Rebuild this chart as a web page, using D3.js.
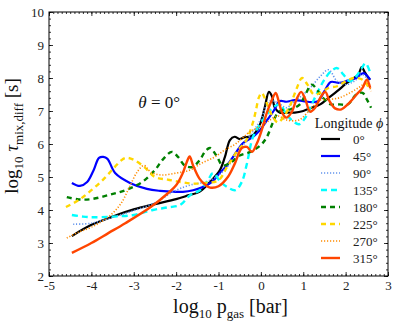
<!DOCTYPE html>
<html>
<head>
<meta charset="utf-8">
<script src="https://cdn.jsdelivr.net/npm/d3@7"></script>
<style>
  body { margin: 0; background: #fff; }
  text { font-family: "Liberation Serif", "DejaVu Serif", serif; }
</style>
</head>
<body>
<div id="chart"></div>
<script>
const margin = { top: 12, right: 10, bottom: 48, left: 49 };
const width = 398 - margin.left - margin.right;
const height = 324 - margin.top - margin.bottom;

// log10 p_gas [bar] and log10 tau_mix,diff [s], read per longitude
const phi0X = [-4.46, -4.0, -3.5, -3.0, -2.5, -2.0, -1.7, -1.45, -1.2, -0.97, -0.85, -0.73, -0.62, -0.5, -0.4, -0.2, -0.02, 0.09, 0.19, 0.26, 0.33, 0.45, 0.6, 0.8, 1.0, 1.2, 1.4, 1.6, 1.8, 2.03, 2.2, 2.3, 2.38, 2.45, 2.57];
const phi0Y = [3.21, 3.55, 3.8, 4.02, 4.18, 4.33, 4.45, 4.55, 4.85, 5.2, 5.6, 6.12, 6.22, 6.15, 6.2, 6.25, 6.6, 7.1, 7.58, 7.45, 7.1, 6.95, 6.95, 6.95, 7.0, 7.1, 7.2, 7.4, 7.6, 7.85, 8.0, 8.1, 8.33, 8.18, 7.94];

const phi45X = [-4.46, -4.27, -4.1, -3.95, -3.82, -3.72, -3.62, -3.44, -3.09, -2.69, -2.38, -2.0, -1.84, -1.6, -1.37, -1.15, -0.97, -0.8, -0.66, -0.42, -0.2, -0.02, 0.15, 0.3, 0.45, 0.6, 0.8, 1.0, 1.2, 1.35, 1.5, 1.65, 1.85, 2.05, 2.25, 2.42, 2.58];
const phi45Y = [4.82, 4.73, 4.85, 5.2, 5.58, 5.61, 5.55, 5.12, 4.82, 4.64, 4.58, 4.55, 4.55, 4.6, 4.7, 4.85, 5.12, 5.35, 5.6, 6.03, 6.2, 6.42, 6.73, 7.0, 7.3, 7.28, 7.33, 7.3, 7.27, 7.3, 7.6, 7.88, 7.85, 7.92, 8.0, 8.15, 7.95];

const phi90X = [-4.43, -4.0, -3.5, -3.0, -2.5, -2.0, -1.6, -1.3, -1.0, -0.8, -0.6, -0.4, -0.2, 0.0, 0.2, 0.4, 0.6, 0.8, 1.0, 1.2, 1.4, 1.6, 1.8, 2.0, 2.2, 2.4, 2.55];
const phi90Y = [3.57, 3.6, 3.78, 3.98, 4.22, 4.6, 4.78, 4.85, 5.05, 5.3, 5.6, 6.0, 6.35, 6.75, 7.3, 7.25, 7.1, 7.3, 7.5, 7.75, 8.05, 8.25, 7.9, 7.8, 7.9, 8.1, 7.9];

const phi135X = [-4.46, -4.2, -3.96, -3.5, -3.0, -2.55, -2.2, -1.91, -1.67, -1.44, -1.25, -1.13, -0.95, -0.8, -0.6, -0.45, -0.33, -0.19, -0.02, 0.15, 0.28, 0.45, 0.6, 0.75, 0.9, 1.05, 1.2, 1.35, 1.5, 1.65, 1.8, 1.95, 2.1, 2.25, 2.38, 2.47, 2.57];
const phi135Y = [3.85, 3.8, 3.78, 3.8, 3.85, 4.0, 4.08, 4.15, 4.45, 4.6, 4.9, 5.12, 4.85, 4.7, 4.6, 4.85, 5.4, 6.2, 6.6, 6.9, 7.1, 7.2, 6.9, 6.7, 6.6, 6.8, 7.2, 7.6, 7.95, 8.2, 8.3, 8.1, 7.9, 8.05, 8.3, 8.45, 8.2];

const phi180X = [-4.58, -4.3, -4.0, -3.6, -3.2, -2.8, -2.5, -2.3, -2.1, -1.95, -1.8, -1.62, -1.45, -1.3, -1.2, -1.05, -0.9, -0.7, -0.5, -0.25, 0.0, 0.14, 0.28, 0.4, 0.52, 0.7, 0.92, 1.05, 1.2, 1.35, 1.5, 1.65, 1.85, 2.05, 2.25, 2.4, 2.5, 2.6];
const phi180Y = [4.39, 4.32, 4.33, 4.45, 4.6, 4.85, 5.21, 5.55, 5.76, 5.6, 5.35, 5.3, 5.5, 5.8, 5.88, 5.65, 5.35, 5.45, 5.65, 5.76, 5.97, 6.21, 6.64, 6.94, 7.03, 7.05, 7.2, 7.5, 7.8, 7.6, 7.35, 7.2, 7.2, 7.2, 7.5, 7.55, 7.35, 7.1];

const phi225X = [-4.6, -4.3, -4.0, -3.7, -3.45, -3.3, -3.18, -3.0, -2.75, -2.5, -2.2, -1.9, -1.6, -1.3, -1.0, -0.8, -0.55, -0.35, -0.2, -0.12, -0.05, 0.02, 0.12, 0.25, 0.4, 0.55, 0.7, 0.85, 0.97, 1.1, 1.25, 1.4, 1.6, 1.8, 2.0, 2.2, 2.4, 2.55];
const phi225Y = [4.09, 4.3, 4.6, 4.95, 5.3, 5.5, 5.58, 5.52, 5.3, 5.0, 4.92, 4.85, 4.8, 4.82, 4.9, 5.3, 5.8, 6.1, 6.6, 7.0, 7.4, 7.55, 7.3, 6.9, 6.65, 6.85, 7.2, 7.7, 8.0, 7.8, 7.5, 7.55, 7.7, 7.75, 7.9, 8.0, 7.95, 7.7];

const phi270X = [-4.58, -4.3, -4.0, -3.6, -3.3, -3.1, -2.92, -2.76, -2.6, -2.35, -2.0, -1.67, -1.4, -1.1, -0.85, -0.6, -0.3, -0.05, 0.15, 0.4, 0.6, 0.9, 1.2, 1.4, 1.6, 1.85, 2.1, 2.3, 2.5, 2.6];
const phi270Y = [3.15, 3.33, 3.48, 3.79, 4.2, 4.7, 5.15, 5.35, 5.15, 5.06, 5.12, 5.21, 5.42, 5.6, 5.82, 6.0, 6.33, 6.52, 6.67, 6.85, 6.73, 6.73, 7.1, 7.33, 7.35, 7.4, 7.55, 7.7, 7.85, 7.6];

const phi315X = [-4.46, -4.0, -3.6, -3.2, -2.6, -2.2, -2.0, -1.85, -1.75, -1.68, -1.6, -1.45, -1.3, -1.2, -1.0, -0.78, -0.61, -0.45, -0.33, -0.21, -0.09, 0.02, 0.14, 0.26, 0.35, 0.42, 0.5, 0.6, 0.72, 0.84, 0.95, 1.05, 1.16, 1.28, 1.4, 1.52, 1.62, 1.75, 1.9, 2.05, 2.26, 2.4, 2.5, 2.58];
const phi315Y = [2.70, 3.0, 3.3, 3.6, 4.09, 4.5, 4.75, 5.1, 5.45, 5.62, 5.35, 4.95, 4.75, 4.68, 4.72, 5.0, 5.42, 5.88, 5.91, 5.76, 6.03, 6.42, 6.94, 7.33, 7.55, 7.3, 6.95, 6.8, 6.95, 7.35, 7.58, 7.35, 6.98, 7.1, 7.4, 7.58, 7.3, 7.08, 7.05, 7.2, 7.5, 7.7, 7.95, 7.7];

const legendLabels = ["0°", "45°", "90°", "135°", "180°", "225°", "270°", "315°"];
const xTicks = [-5, -4, -3, -2, -1, 0, 1, 2, 3];
const yTicks = [2, 3, 4, 5, 6, 7, 8, 9, 10];

const series = [
  { label: legendLabels[0], xs: phi0X, ys: phi0Y, color: "#000000", width: 2.2, dash: null },
  { label: legendLabels[1], xs: phi45X, ys: phi45Y, color: "#0000ff", width: 2.2, dash: null },
  { label: legendLabels[2], xs: phi90X, ys: phi90Y, color: "#6495ed", width: 1.6, dash: "1.2,1.8" },
  { label: legendLabels[3], xs: phi135X, ys: phi135Y, color: "#00ffff", width: 2.4, dash: "6,4" },
  { label: legendLabels[4], xs: phi180X, ys: phi180Y, color: "#008000", width: 2.4, dash: "5,4" },
  { label: legendLabels[5], xs: phi225X, ys: phi225Y, color: "#ffd700", width: 2.4, dash: "5,4" },
  { label: legendLabels[6], xs: phi270X, ys: phi270Y, color: "#ff8c00", width: 1.6, dash: "1.2,1.8" },
  { label: legendLabels[7], xs: phi315X, ys: phi315Y, color: "#ff4500", width: 2.4, dash: null }
];

const svg = d3.select("#chart")
  .append("svg")
  .attr("width", 398)
  .attr("height", 324)
  .append("g")
  .attr("transform", `translate(${margin.left},${margin.top})`);

const x = d3.scaleLinear().domain([-5, 3]).range([0, width]);
const y = d3.scaleLinear().domain([2, 10]).range([height, 0]);

// clip so curves stay inside the frame
svg.append("clipPath").attr("id", "clip")
  .append("rect").attr("width", width).attr("height", height);

const line = d3.line()
  .x(d => x(d[0]))
  .y(d => y(d[1]))
  .curve(d3.curveCatmullRom.alpha(0.5));

svg.append("g").attr("clip-path", "url(#clip)")
  .selectAll("path")
  .data(series)
  .join("path")
  .attr("fill", "none")
  .attr("stroke", d => d.color)
  .attr("stroke-width", d => d.width)
  .attr("stroke-dasharray", d => d.dash)
  .attr("stroke-linejoin", "round")
  .attr("d", d => line(d.xs.map((v, i) => [v, d.ys[i]])));

// minor ticks
const xMinor = d3.range(-5, 3.001, 0.1);
const yMinor = d3.range(2, 10.001, 0.2);
const styleAxis = g => {
  g.select(".domain").remove();
  g.selectAll("line").attr("stroke", "#000").attr("stroke-width", 0.8);
};
svg.append("g").attr("transform", `translate(0,${height})`)
  .call(d3.axisBottom(x).tickValues(xMinor).tickSize(-2).tickFormat("")).call(styleAxis);
svg.append("g")
  .call(d3.axisTop(x).tickValues(xMinor).tickSize(-2).tickFormat("")).call(styleAxis);
svg.append("g")
  .call(d3.axisLeft(y).tickValues(yMinor).tickSize(-2).tickFormat("")).call(styleAxis);
svg.append("g").attr("transform", `translate(${width},0)`)
  .call(d3.axisRight(y).tickValues(yMinor).tickSize(-2).tickFormat("")).call(styleAxis);

// major ticks + labels
const fmt = d => d < 0 ? "-" + Math.abs(d) : String(d);
const xAxis = svg.append("g").attr("transform", `translate(0,${height})`)
  .call(d3.axisBottom(x).tickValues(xTicks).tickSize(-4).tickPadding(5).tickFormat(fmt));
const yAxis = svg.append("g")
  .call(d3.axisLeft(y).tickValues(yTicks).tickSize(-4).tickPadding(5).tickFormat(fmt));
svg.append("g").call(d3.axisTop(x).tickValues(xTicks).tickSize(-4).tickFormat("")).call(styleAxis);
svg.append("g").attr("transform", `translate(${width},0)`)
  .call(d3.axisRight(y).tickValues(yTicks).tickSize(-4).tickFormat("")).call(styleAxis);
[xAxis, yAxis].forEach(g => {
  g.call(styleAxis);
  g.selectAll("text")
    .attr("fill", "#222")
    .style("font-size", "13px")
    .style("font-family", "Liberation Serif, serif");
});

// frame
svg.append("rect")
  .attr("width", width).attr("height", height)
  .attr("fill", "none").attr("stroke", "#000").attr("stroke-width", 1);

// annotation
const ann = svg.append("text")
  .attr("x", x(-2.4)).attr("y", y(7.1))
  .attr("text-anchor", "middle")
  .style("font-size", "17px")
  .attr("fill", "#111");
ann.append("tspan").style("font-style", "italic").text("θ");
ann.append("tspan").text(" = 0°");

// axis labels
const xl = svg.append("text")
  .attr("x", width / 2 + 12).attr("y", height + 37)
  .attr("text-anchor", "middle")
  .style("font-size", "20px").attr("fill", "#111");
xl.append("tspan").text("log");
xl.append("tspan").attr("dy", 5).style("font-size", "13px").text("10");
xl.append("tspan").attr("dy", -5).text(" p");
xl.append("tspan").attr("dy", 5).style("font-size", "13px").text("gas");
xl.append("tspan").attr("dy", -5).text(" [bar]");

const yl = svg.append("text")
  .attr("transform", `translate(${-31},${height / 2 - 8}) rotate(-90)`)
  .attr("text-anchor", "middle")
  .style("font-size", "19px").attr("fill", "#111");
yl.append("tspan").text("log");
yl.append("tspan").attr("dy", 5).style("font-size", "13px").text("10");
yl.append("tspan").attr("dy", -5).style("font-style", "italic").text(" τ");
yl.append("tspan").attr("dy", 5).style("font-size", "13px").text("mix,diff");
yl.append("tspan").attr("dy", -5).text(" [s]");

// legend
const legend = svg.append("g").attr("transform", `translate(${width - 73},${111})`);
const lt = legend.append("text")
  .attr("x", 34).attr("y", 5)
  .attr("text-anchor", "middle")
  .style("font-size", "14px").attr("fill", "#111");
lt.append("tspan").text("Longitude ");
lt.append("tspan").style("font-style", "italic").text("ϕ");

const rows = legend.selectAll("g.row")
  .data(series)
  .join("g")
  .attr("class", "row")
  .attr("transform", (d, i) => `translate(0,${16 + i * 17})`);
rows.append("line")
  .attr("x1", 6).attr("x2", 25).attr("y1", 0).attr("y2", 0)
  .attr("stroke", d => d.color)
  .attr("stroke-width", d => d.width)
  .attr("stroke-dasharray", d => d.dash);
rows.append("text")
  .attr("x", 38).attr("y", 4.5)
  .style("font-size", "13px").attr("fill", "#222")
  .text(d => d.label);
</script>
</body>
</html>
